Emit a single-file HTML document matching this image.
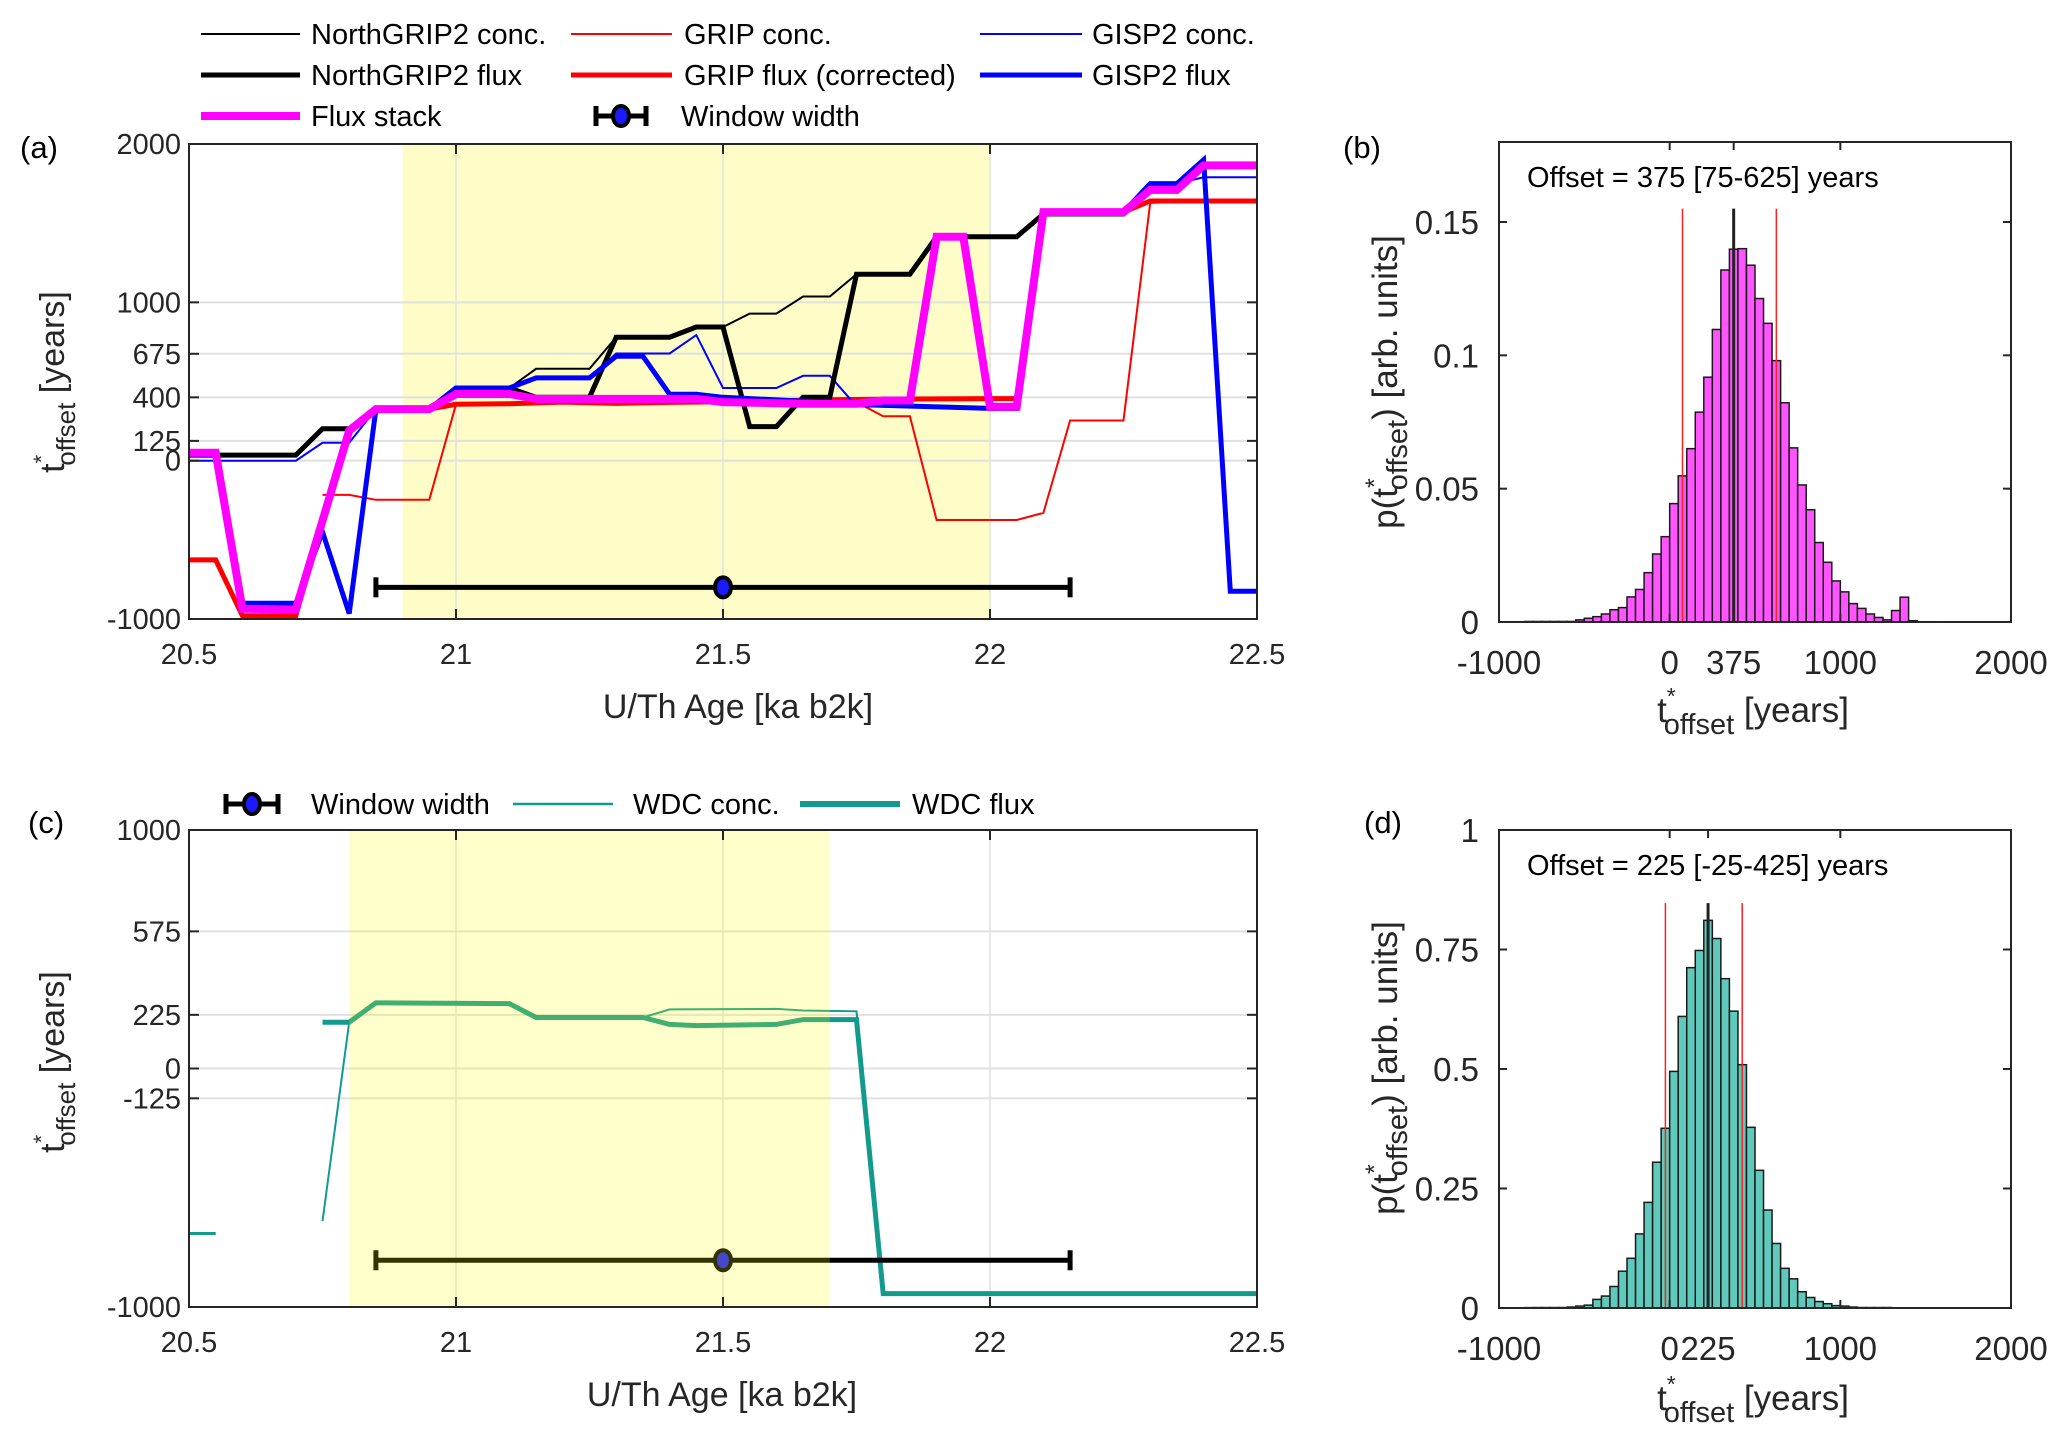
<!DOCTYPE html>
<html><head><meta charset="utf-8">
<style>
html,body{margin:0;padding:0;background:#fff;}
svg{display:block;font-family:"Liberation Sans",Arial,sans-serif;}
</style></head>
<body>
<svg id="fig" width="2067" height="1452" viewBox="0 0 2067 1452" xmlns="http://www.w3.org/2000/svg"></svg>
<script>
// ---------- Panel (a) data ----------
const ngripConcX = [20.5,20.55,20.6,20.7,20.75,20.8,20.85,20.95,21.0,21.1,21.15,21.25,21.3,21.4,21.45,21.5,21.55,21.6,21.65,21.7,21.75,21.85,21.9,22.05,22.1,22.25,22.3,22.35,22.4,22.5];
const ngripConcY = [35,35,35,35,202,202,326,326,459,459,580,580,780,780,844,844,929,929,1037,1037,1178,1178,1414,1414,1558,1558,1725,1725,1860,1860];
const ngripFluxX = [20.5,20.55,20.6,20.7,20.75,20.8,20.85,20.95,21.0,21.1,21.15,21.25,21.3,21.4,21.45,21.5,21.55,21.6,21.65,21.7,21.75,21.85,21.9,22.05,22.1,22.25,22.3,22.35,22.4,22.5];
const ngripFluxY = [35,35,35,35,202,202,326,326,459,459,400,400,780,780,844,844,215,215,400,400,1178,1178,1414,1414,1558,1558,1725,1725,1860,1860];
const gripConcX = [20.75,20.8,20.85,20.95,21.0,21.1,21.2,21.3,21.4,21.5,21.6,21.75,21.8,21.85,21.9,22.05,22.1,22.15,22.25,22.3,22.5];
const gripConcY = [-216,-216,-247,-247,356,360,370,365,370,372,375,370,280,280,-375,-375,-330,254,254,1628,1650];
const gripFluxX = [20.5,20.55,20.6,20.7,20.75,20.8,20.85,20.95,21.0,21.1,21.2,21.3,21.4,21.5,21.6,21.7,21.8,21.9,22.0,22.05,22.1,22.25,22.3,22.5];
const gripFluxY = [-627,-627,-980,-980,-380,190,326,326,356,360,370,362,368,372,378,385,388,390,392,392,1570,1570,1640,1640];
const gispConcX = [20.5,20.55,20.6,20.7,20.75,20.8,20.85,20.95,21.0,21.1,21.15,21.25,21.3,21.4,21.45,21.5,21.6,21.65,21.7,21.75,21.8,22.0,22.05,22.1,22.25,22.3,22.35,22.4,22.5];
const gispConcY = [0,0,0,0,113,113,326,326,459,459,523,523,677,677,793,459,459,536,536,344,340,330,330,1570,1570,1750,1750,1790,1790];
const gispFluxX = [20.5,20.55,20.6,20.7,20.75,20.8,20.85,20.95,21.0,21.1,21.15,21.25,21.3,21.35,21.4,21.45,21.5,21.75,21.8,22.0,22.05,22.1,22.25,22.3,22.35,22.4,22.45,22.5];
const gispFluxY = [35,35,-900,-900,-450,-966,326,326,459,459,523,523,660,660,420,420,400,360,350,330,330,1570,1570,1750,1750,1900,-825,-825];
const stackX = [20.5,20.55,20.6,20.7,20.75,20.8,20.85,20.95,21.0,21.1,21.15,21.45,21.5,21.65,21.75,21.8,21.85,21.9,21.95,22.0,22.05,22.1,22.25,22.3,22.35,22.4,22.5];
const stackY = [50,50,-935,-940,-380,190,326,326,421,421,390,390,370,360,360,380,380,1414,1414,340,340,1570,1570,1710,1710,1865,1865];
const windowA = [20.85,21.5,22.15];
const windowAy = -800;
const shadeA = [20.9,22.0];
const yTicksA = [-1000,0,125,400,675,1000,2000];
const xTicks = [20.5,21,21.5,22,22.5];

// ---------- Panel (c) data ----------
const wdcFluxSeg1X = [20.5,20.55];
const wdcFluxSeg1Y = [-692,-692];
const wdcFluxX = [20.75,20.8,20.85,21.1,21.15,21.35,21.4,21.45,21.6,21.65,21.75,21.8,22.5];
const wdcFluxY = [194,194,275,272,214,214,185,180,185,205,205,-944,-944];
const wdcConcX = [20.75,20.8,20.85,21.1,21.15,21.35,21.4,21.6,21.65,21.75,21.8,22.5];
const wdcConcY = [-640,194,275,272,214,214,248,250,243,240,-944,-944];
const windowC = [20.85,21.5,22.15];
const windowCy = -804;
const shadeC = [20.8,21.7];
const yTicksC = [-1000,-125,0,225,575,1000];

// ---------- Panel (b) histogram ----------
const histBStart = -1000;
const histBWidth = 50;
const histBValues = [0.0001,0.0001,0.0001,0.0002,0.0002,0.0002,0.0002,0.0002,0.0002,0.0008,0.0014,0.002,0.003,0.0046,0.0054,0.0094,0.0122,0.0185,0.0255,0.032,0.0444,0.0548,0.065,0.0787,0.0918,0.1097,0.132,0.1398,0.140,0.1338,0.1213,0.112,0.098,0.0822,0.0653,0.0514,0.0421,0.0298,0.0224,0.0154,0.0113,0.0069,0.0051,0.003,0.0017,0.0008,0.0043,0.0093,0.0005,0.0001,0.0001,0.0001];
const bStats = [75,375,625];
const bTicksX = [-1000,0,375,1000,2000];
const bTicksY = [0,0.05,0.1,0.15];

// ---------- Panel (d) histogram ----------
const histDStart = -1000;
const histDWidth = 50;
const histDValues = [0.0005,0.0005,0.0005,0.0008,0.001,0.001,0.001,0.001,0.002,0.004,0.006,0.018,0.025,0.045,0.077,0.104,0.155,0.221,0.305,0.376,0.495,0.61,0.712,0.748,0.811,0.773,0.689,0.621,0.509,0.378,0.288,0.205,0.135,0.083,0.061,0.034,0.022,0.0135,0.009,0.005,0.004,0.002,0.001,0.001,0.001,0.001];
const dStats = [-25,225,425];
const dTicksX = [-1000,0,225,1000,2000];
const dTicksY = [0,0.25,0.5,0.75,1];

const NS = "http://www.w3.org/2000/svg";
const svg = document.getElementById('fig');
function mk(tag, attrs, parent, text){
  const e = document.createElementNS(NS, tag);
  for (const k in attrs) e.setAttribute(k, attrs[k]);
  if (text !== undefined) e.textContent = text;
  (parent || svg).appendChild(e);
  return e;
}
function lin(d0,d1,r0,r1){ return v => r0 + (v-d0)/(d1-d0)*(r1-r0); }

// ===== Line panels =====
function linePanel(cfg){
  const g = mk('g', {});
  
  
  const L=189,R=1257,T=cfg.top,B=cfg.bottom;
  const sx = lin(20.5,22.5,L,R), sy = lin(cfg.ymin,cfg.ymax,B,T);
  function shade(){
    const sh = mk('rect',{x:sx(cfg.shade[0]),y:T,width:sx(cfg.shade[1])-sx(cfg.shade[0]),height:B-T,fill:cfg.overlay?'rgba(255,255,0,0.2)':'#fefdc8'},g);
    
    
  }
  if(!cfg.overlay) shade();
  cfg.yTicks.forEach(v=>{
    const gl = mk('line',{x1:L,x2:R,y1:sy(v),y2:sy(v),stroke:'#e0e0e0','stroke-width':2},g);
    
    
  });
  xTicks.forEach(v=>{
    const gl = mk('line',{x1:sx(v),x2:sx(v),y1:T,y2:B,stroke:'#e0e0e0','stroke-width':1.5},g);
    
    
  });
  cfg.series.forEach(s=>{
    const pts = s.x.map((x,i)=>sx(x).toFixed(1)+','+sy(s.y[i]).toFixed(1)).join(' ');
    const pl = mk('polyline',{points:pts,fill:'none',stroke:s.color,'stroke-width':s.w,'stroke-linejoin':'miter'},g);
    
    
  });
  const w = cfg.win, wy = sy(cfg.winY);
  const wg = mk('g',{},g);
  
  
  mk('line',{x1:sx(w[0]),x2:sx(w[2]),y1:wy,y2:wy,stroke:'#000','stroke-width':5},wg);
  mk('line',{x1:sx(w[0]),x2:sx(w[0]),y1:wy-10,y2:wy+10,stroke:'#000','stroke-width':5},wg);
  mk('line',{x1:sx(w[2]),x2:sx(w[2]),y1:wy-10,y2:wy+10,stroke:'#000','stroke-width':5},wg);
  mk('ellipse',{cx:sx(w[1]),cy:wy,rx:8,ry:10,fill:'#1a1aff',stroke:'#000','stroke-width':4},wg);
  if(cfg.overlay) shade();
  const box = mk('rect',{x:L,y:T,width:R-L,height:B-T,fill:'none',stroke:'#262626','stroke-width':2},g);
  
  
  cfg.yTicks.forEach(v=>{
    mk('line',{x1:L,x2:L+10,y1:sy(v),y2:sy(v),stroke:'#262626','stroke-width':2},g);
    mk('line',{x1:R-10,x2:R,y1:sy(v),y2:sy(v),stroke:'#262626','stroke-width':2},g);
    const t = mk('text',{x:L-8,y:sy(v)+10,'font-size':29,'text-anchor':'end',fill:'#262626'},g,String(v));
    
    
  });
  xTicks.forEach(v=>{
    mk('line',{x1:sx(v),x2:sx(v),y1:B,y2:B-10,stroke:'#262626','stroke-width':2},g);
    mk('line',{x1:sx(v),x2:sx(v),y1:T,y2:T+10,stroke:'#262626','stroke-width':2},g);
    const t = mk('text',{x:sx(v),y:B+45,'font-size':29,'text-anchor':'middle',fill:'#262626'},g,String(v));
    
    
  });
}

linePanel({name:'panel-a-chart',top:144,bottom:619,ymin:-1000,ymax:2000,yTicks:yTicksA,shade:shadeA,win:windowA,winY:windowAy,overlay:false,
 series:[
  {name:'grip-conc-line',x:gripConcX,y:gripConcY,color:'#ff0000',w:2},
  {name:'grip-flux-line',x:gripFluxX,y:gripFluxY,color:'#ff0000',w:5},
  {name:'gisp2-conc-line',x:gispConcX,y:gispConcY,color:'#0000ff',w:2},
  {name:'ngrip2-conc-line',x:ngripConcX,y:ngripConcY,color:'#000',w:2},
  {name:'ngrip2-flux-line',x:ngripFluxX,y:ngripFluxY,color:'#000',w:5},
  {name:'gisp2-flux-line',x:gispFluxX,y:gispFluxY,color:'#0000ff',w:5},
  {name:'flux-stack-line',x:stackX,y:stackY,color:'#ff00ff',w:8}
 ]});
linePanel({name:'panel-c-chart',top:830,bottom:1307,ymin:-1000,ymax:1000,yTicks:yTicksC,shade:shadeC,win:windowC,winY:windowCy,overlay:true,
 series:[
  {name:'wdc-flux-line-early',x:wdcFluxSeg1X,y:wdcFluxSeg1Y,color:'#129b8d',w:3},
  {name:'wdc-flux-line',x:wdcFluxX,y:wdcFluxY,color:'#129b8d',w:5},
  {name:'wdc-conc-line',x:wdcConcX,y:wdcConcY,color:'#129b8d',w:2}
 ]});

// ===== Histogram panels =====
function histPanel(cfg){
  const g = mk('g',{});
  
  
  const L=1499,R=2011,T=cfg.top,B=cfg.bottom;
  const sx = lin(-1000,2000,L,R), sy = lin(0,cfg.ymax,B,T);
  cfg.values.forEach((v,i)=>{
    const x0 = cfg.start + i*cfg.width;
    const r = mk('rect',{x:sx(x0),y:sy(v),width:sx(x0+cfg.width)-sx(x0),height:B-sy(v),fill:cfg.fill,stroke:'#1a1a1a','stroke-width':1.5},g);
    
    
  });
  const sl = cfg.stats, top = sy(cfg.lineTop);
  [[sl[0],'#ff2020',1.5],[sl[2],'#ff2020',1.5],[sl[1],'#222',3]].forEach(a=>{
    const l = mk('line',{x1:sx(a[0]),x2:sx(a[0]),y1:B,y2:top,stroke:a[1],'stroke-width':a[2]},g);
    
    
  });
  const box = mk('rect',{x:L,y:T,width:R-L,height:B-T,fill:'none',stroke:'#262626','stroke-width':2},g);
  
  
  cfg.yTicks.forEach(v=>{
    mk('line',{x1:L,x2:L+8,y1:sy(v),y2:sy(v),stroke:'#262626','stroke-width':2},g);
    mk('line',{x1:R-8,x2:R,y1:sy(v),y2:sy(v),stroke:'#262626','stroke-width':2},g);
    const t = mk('text',{x:L-20,y:sy(v)+12,'font-size':33,'text-anchor':'end',fill:'#262626'},g,String(v));
    
    
  });
  cfg.xTicks.forEach(v=>{
    mk('line',{x1:sx(v),x2:sx(v),y1:B,y2:B-8,stroke:'#262626','stroke-width':2},g);
    mk('line',{x1:sx(v),x2:sx(v),y1:T,y2:T+8,stroke:'#262626','stroke-width':2},g);
    const t = mk('text',{x:sx(v),y:B+52,'font-size':33,'text-anchor':'middle',fill:'#262626'},g,String(v));
    
    
  });
  const a = mk('text',{x:1527,y:cfg.annY,'font-size':29,fill:'#000'},g,cfg.ann);
  
  
}
histPanel({name:'panel-b-histogram',top:142,bottom:622,ymax:0.18,values:histBValues,start:histBStart,width:histBWidth,fill:'#ff55ff',
  stats:bStats,lineTop:0.155,xTicks:bTicksX,yTicks:bTicksY,ann:'Offset = 375 [75-625] years',annY:187});
histPanel({name:'panel-d-histogram',top:830,bottom:1308,ymax:1,values:histDValues,start:histDStart,width:histDWidth,fill:'#5fc9bb',
  stats:dStats,lineTop:0.847,xTicks:dTicksX,yTicks:dTicksY,ann:'Offset = 225 [-25-425] years',annY:875});
</script>

<svg style="position:absolute;left:0;top:0" width="2067" height="1452" xmlns="http://www.w3.org/2000/svg" font-family="Liberation Sans, Arial, sans-serif">
  <g font-size="31" fill="#000">
    <text x="20" y="158">(a)</text>
    <text x="1343" y="158">(b)</text>
    <text x="28" y="833">(c)</text>
    <text x="1364" y="833">(d)</text>
  </g>
  <g fill="#262626">
    <text x="738" y="718" font-size="34" text-anchor="middle">U/Th Age [ka b2k]</text>
    <text x="722" y="1406" font-size="34" text-anchor="middle">U/Th Age [ka b2k]</text>
    <text transform="translate(64,382) rotate(-90)" font-size="34" text-anchor="middle">t<tspan dy="-15" font-size="22">*</tspan><tspan dy="26" dx="-11" font-size="26">offset</tspan><tspan dy="-11"> [years]</tspan></text>
    <text transform="translate(64,1062) rotate(-90)" font-size="34" text-anchor="middle">t<tspan dy="-15" font-size="22">*</tspan><tspan dy="26" dx="-11" font-size="26">offset</tspan><tspan dy="-11"> [years]</tspan></text>
    <text x="1753" y="722" font-size="35" text-anchor="middle">t<tspan dy="-18" font-size="23">*</tspan><tspan dy="30" dx="-12" font-size="29">offset</tspan><tspan dy="-12"> [years]</tspan></text>
    <text x="1753" y="1410" font-size="35" text-anchor="middle">t<tspan dy="-18" font-size="23">*</tspan><tspan dy="30" dx="-12" font-size="29">offset</tspan><tspan dy="-12"> [years]</tspan></text>
    <text transform="translate(1397,382) rotate(-90)" font-size="35" text-anchor="middle">p(t<tspan dy="-14" font-size="25">*</tspan><tspan dy="24" dx="-12" font-size="29">offset</tspan><tspan dy="-10">) [arb. units]</tspan></text>
    <text transform="translate(1397,1068) rotate(-90)" font-size="35" text-anchor="middle">p(t<tspan dy="-14" font-size="25">*</tspan><tspan dy="24" dx="-12" font-size="29">offset</tspan><tspan dy="-10">) [arb. units]</tspan></text>
  </g>
  <g font-size="29" fill="#000">
    <g><line x1="201" y1="34" x2="300" y2="34" stroke="#000" stroke-width="2"/><text x="311" y="44">NorthGRIP2 conc.</text></g>
    <g><line x1="571" y1="34" x2="672" y2="34" stroke="#f00" stroke-width="2"/><text x="684" y="44">GRIP conc.</text></g>
    <g><line x1="980" y1="34" x2="1082" y2="34" stroke="#00f" stroke-width="2"/><text x="1092" y="44">GISP2 conc.</text></g>
    <g><line x1="201" y1="75" x2="300" y2="75" stroke="#000" stroke-width="5"/><text x="311" y="85">NorthGRIP2 flux</text></g>
    <g><line x1="571" y1="75" x2="672" y2="75" stroke="#f00" stroke-width="5"/><text x="684" y="85">GRIP flux (corrected)</text></g>
    <g><line x1="980" y1="75" x2="1082" y2="75" stroke="#00f" stroke-width="5"/><text x="1092" y="85">GISP2 flux</text></g>
    <g><line x1="201" y1="116" x2="300" y2="116" stroke="#f0f" stroke-width="8"/><text x="311" y="126">Flux stack</text></g>
    <g><line x1="596" y1="116" x2="646" y2="116" stroke="#000" stroke-width="5"/><line x1="596" y1="106" x2="596" y2="126" stroke="#000" stroke-width="5"/><line x1="646" y1="106" x2="646" y2="126" stroke="#000" stroke-width="5"/><ellipse cx="621" cy="116" rx="8" ry="10" fill="#1a1aff" stroke="#000" stroke-width="4"/><text x="681" y="126">Window width</text></g>
  </g>
  <g font-size="29" fill="#000">
    <g><line x1="226" y1="804" x2="278" y2="804" stroke="#000" stroke-width="5"/><line x1="226" y1="794" x2="226" y2="814" stroke="#000" stroke-width="5"/><line x1="278" y1="794" x2="278" y2="814" stroke="#000" stroke-width="5"/><ellipse cx="252" cy="804" rx="8" ry="10" fill="#1a1aff" stroke="#000" stroke-width="4"/><text x="311" y="814">Window width</text></g>
    <g><line x1="513" y1="804" x2="613" y2="804" stroke="#129b8d" stroke-width="2.5"/><text x="633" y="814">WDC conc.</text></g>
    <g><line x1="800" y1="804" x2="900" y2="804" stroke="#129b8d" stroke-width="6"/><text x="912" y="814">WDC flux</text></g>
  </g>
</svg>
</body></html>
